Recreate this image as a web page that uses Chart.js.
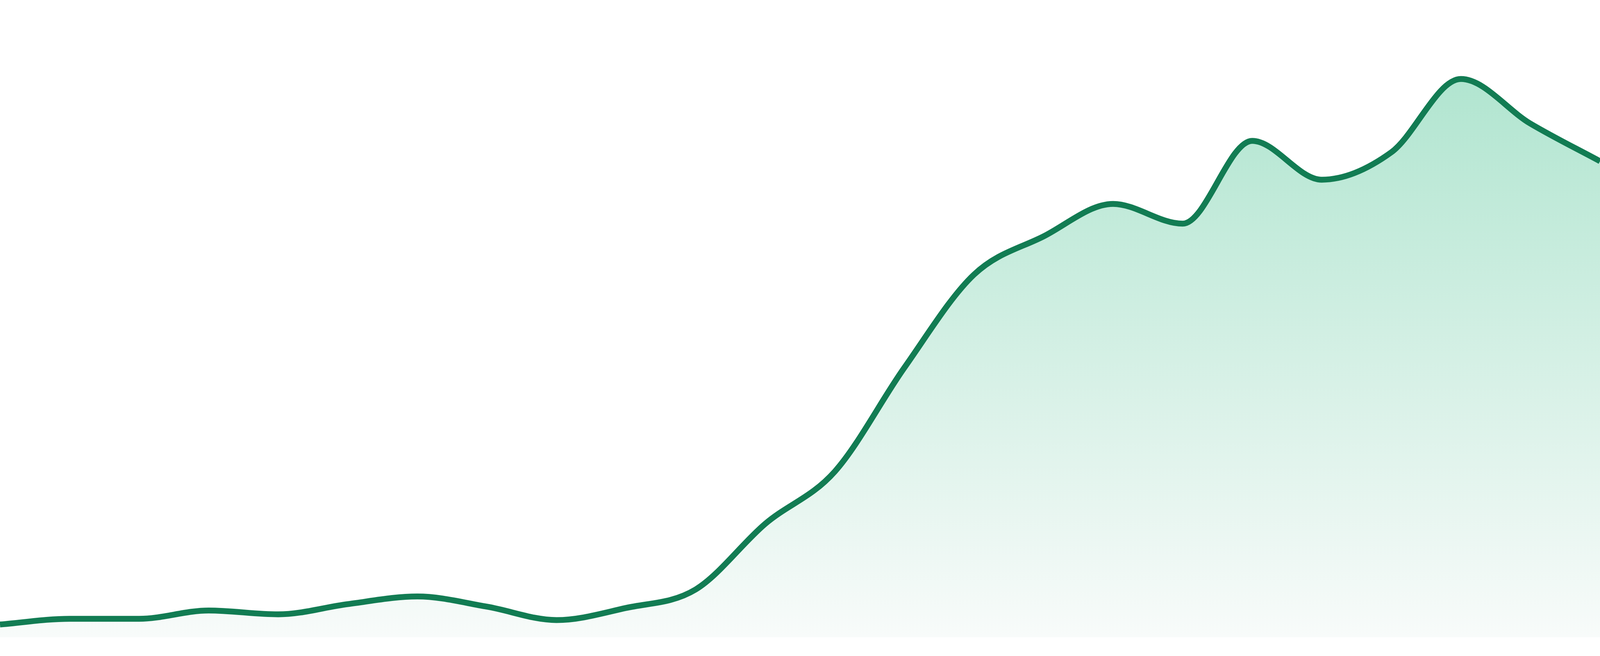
<!DOCTYPE html>
<html>
<head>
<meta charset="utf-8">
<script src="https://cdn.jsdelivr.net/npm/chart.js@4/dist/chart.umd.min.js"></script>
<style>
  html, body { margin: 0; padding: 0; background: #ffffff; overflow: hidden; }
  #wrap { width: 100vw; height: 100vh; position: relative; }
</style>
</head>
<body>
<div id="wrap"><canvas id="areaChart"></canvas></div>
<script>
// categories (no axis labels are shown in the picture)
var labels = ['1', '2', '3', '4', '5', '6', '7', '8', '9', '10', '11', '12',
              '13', '14', '15', '16', '17', '18', '19', '20', '21', '22', '23', '24'];
// series values
var values = [2.0, 2.9, 2.9, 4.2, 3.6, 5.2, 6.4, 4.8, 2.7, 4.6, 7.5, 17.8,
              26.0, 42.3, 56.9, 62.9, 68.0, 64.9, 77.9, 71.8, 76.1, 87.6, 80.6, 74.7];
var yMin = 0;
var yMax = 100;

const CHART = document.getElementById("areaChart");

function fillGradient(context) {
    var chart = context.chart;
    var area = chart.chartArea;
    if (!area) return 'rgba(167,226,202,0.5)';
    var g = chart.ctx.createLinearGradient(0, area.top, 0, area.bottom);
    g.addColorStop(0, '#a7e2ca');
    g.addColorStop(1, '#f8fbfa');
    return g;
}

var areaChart = new Chart(CHART, {
    type: 'line',
    data: {
        labels: labels,
        datasets: [
            {
                data: values,
                borderColor: '#127c53',
                borderWidth: 15,
                backgroundColor: fillGradient,
                fill: 'origin',
                cubicInterpolationMode: 'monotone',
                pointRadius: 0,
                pointHoverRadius: 0
            }
        ]
    },
    options: {
        responsive: true,
        maintainAspectRatio: false,
        devicePixelRatio: 1,
        animation: false,
        layout: { autoPadding: false, padding: { top: 0, left: 0, right: 0, bottom: 48 } },
        plugins: {
            legend: { display: false },
            tooltip: { enabled: false }
        },
        scales: {
            x: { display: false, offset: false },
            y: { display: false, min: yMin, max: yMax }
        }
    }
});
</script>
</body>
</html>
